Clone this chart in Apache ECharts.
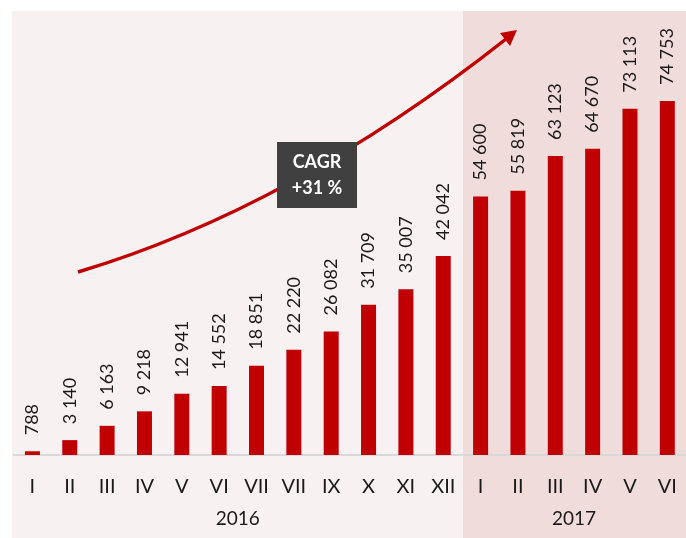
<!DOCTYPE html>
<html>
<head>
<meta charset="utf-8">
<script src="https://cdn.jsdelivr.net/npm/echarts@6/dist/echarts.min.js"></script>
<style>
html, body { margin: 0; padding: 0; background: #fff; }
#chart { width: 686px; height: 538px; }
</style>
</head>
<body>
<div id="chart"></div>
<script>
var months = ['I', 'II', 'III', 'IV', 'V', 'VI', 'VII', 'VII', 'IX', 'X', 'XI', 'XII',
              'I', 'II', 'III', 'IV', 'V', 'VI'];
var users = [788, 3140, 6163, 9218, 12941, 14552, 18851, 22220, 26082, 31709, 35007, 42042,
             54600, 55819, 63123, 64670, 73113, 74753];
var years = ['2016', '2017'];
var yearCenters = [6, 15];   // middle of each year's months on the 0..18 scale
var cagrText = 'CAGR\n+31 %';

var font = 'Lato, "Open Sans", sans-serif';
var narrow = '"Liberation Sans Narrow", Lato, sans-serif';

function fmt(v) {
    return String(v).replace(/\B(?=(\d{3})+(?!\d))/g, ' ');
}

var chart = echarts.init(document.getElementById('chart'));
var option = {
    backgroundColor: '#ffffff',
    animation: false,
    textStyle: { fontFamily: font },
    graphic: [
        // background panels for 2016 and 2017
        { type: 'rect', z: -10, silent: true, shape: { x: 12, y: 11, width: 451, height: 527 }, style: { fill: '#f8f1f1' } },
        { type: 'rect', z: -10, silent: true, shape: { x: 463, y: 11, width: 223, height: 527 }, style: { fill: '#f1dcdc' } },
        // growth arrow
        { type: 'bezierCurve', z: 5, silent: true,
          shape: { x1: 78, y1: 272, x2: 506, y2: 39, cpx1: 292, cpy1: 208 },
          style: { stroke: '#c00000', lineWidth: 3.5, fill: null } },
        { type: 'polygon', z: 5, silent: true,
          shape: { points: [[517, 30], [510, 46], [500, 33]] },
          style: { fill: '#c00000' } },
        // CAGR box
        { type: 'rect', z: 6, silent: true, shape: { x: 277, y: 142, width: 80, height: 66 }, style: { fill: '#404040' } },
        { type: 'text', z: 7, silent: true, x: 317, y: 175,
          style: { text: cagrText, fill: '#ffffff', font: 'bold 18px ' + font, align: 'center', verticalAlign: 'middle', lineHeight: 26 } }
    ],
    grid: { left: 13.75, width: 675, top: 11, height: 444 },
    xAxis: [
        {
            type: 'category',
            data: months,
            axisLine: { lineStyle: { color: '#d9d9d9', width: 2 } },
            axisTick: { show: false },
            axisLabel: { color: '#1a1a1a', fontSize: 20, margin: 22, fontFamily: font, interval: 0 }
        },
        {
            type: 'value',
            position: 'bottom',
            min: 0,
            max: 18,
            offset: 44,
            axisLine: { show: false },
            axisTick: { show: false },
            splitLine: { show: false },
            axisLabel: {
                customValues: yearCenters,
                color: '#1a1a1a', fontSize: 19, margin: 10, fontFamily: font,
                formatter: function (v) { return years[yearCenters.indexOf(v)] || ''; }
            }
        }
    ],
    yAxis: {
        type: 'value',
        min: 0,
        max: 93750,
        show: false,
        splitLine: { show: false }
    },
    series: [
        {
            name: 'users',
            type: 'bar',
            data: users,
            barWidth: 15,
            itemStyle: { color: '#c00000' },
            label: {
                show: true,
                position: 'top',
                rotate: 90,
                align: 'left',
                verticalAlign: 'middle',
                distance: 16,
                color: '#1a1a1a',
                fontSize: 18,
                fontFamily: narrow,
                formatter: function (p) { return fmt(p.value); }
            }
        }
    ]
};
chart.setOption(option);
</script>
</body>
</html>
